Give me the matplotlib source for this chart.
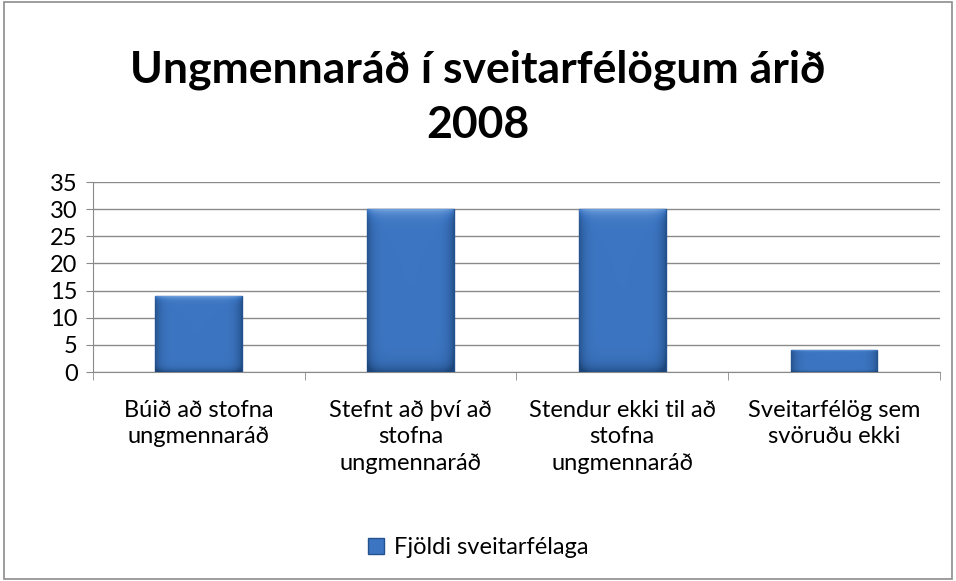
import numpy as np
import matplotlib.pyplot as plt
from matplotlib.patches import Rectangle
from matplotlib.colors import LinearSegmentedColormap

categories = ["Búið að stofna\nungmennaráð",
              "Stefnt að því að\nstofna\nungmennaráð",
              "Stendur ekki til að\nstofna\nungmennaráð",
              "Sveitarfélög sem\nsvöruðu ekki"]
values = [14, 30, 30, 4]
series_name = "Fjöldi sveitarfélaga"
title = "Ungmennaráð í sveitarfélögum árið\n2008"

plt.rcParams['font.family'] = ['Lato', 'DejaVu Sans']

fig = plt.figure(figsize=(9.56, 5.81), dpi=100)
fig.patches.append(Rectangle((0.004, 0.004), 0.992, 0.992, transform=fig.transFigure,
                             fill=False, edgecolor="#8c8c8c", linewidth=1.2))

ax = fig.add_axes([0.0973, 0.3597, 0.8857, 0.327])
x = np.arange(len(values))
bars = ax.bar(x, values, width=0.41, color="#3c75c1", edgecolor="#24528f", linewidth=1.0,
              label=series_name, zorder=3)

# bevel-like shading on each bar
bev = LinearSegmentedColormap.from_list("bev", ["#1c4579", "#3c75c1", "#7aa9e2"])
gx = np.linspace(-1, 1, 80)
gy = np.linspace(0, 1, 80)
GX, GY = np.meshgrid(gx, gy)
shade = 0.5 - 0.35 * np.abs(GX) ** 8 + 0.4 * GY ** 30 - 0.35 * (1 - GY) ** 25
for b in bars:
    x0, y0 = b.get_x(), b.get_y()
    im = ax.imshow(shade, extent=(x0, x0 + b.get_width(), y0, y0 + b.get_height()),
                   origin="lower", cmap=bev, vmin=0, vmax=1, aspect="auto", zorder=3.5)
    im.set_clip_path(b)

ax.set_xlim(-0.5, len(values) - 0.5)
ax.set_ylim(0, 35)
ax.set_yticks(np.arange(0, 36, 5))
ax.yaxis.grid(True, color="#8a8a8a", linewidth=1)
ax.set_axisbelow(True)
for s in ["top", "right"]:
    ax.spines[s].set_visible(False)
for s in ["left", "bottom"]:
    ax.spines[s].set_color("#8a8a8a")
ax.tick_params(axis="y", length=5, color="#8a8a8a", labelsize=17, pad=6)
ax.set_xticks(x)
ax.set_xticklabels(categories, fontsize=17, linespacing=1.32)
ax.tick_params(axis="x", length=0, pad=20)
ax.set_xticks(np.arange(-0.5, len(values), 1), minor=True)
ax.tick_params(axis="x", which="minor", length=6, color="#8a8a8a")

fig.text(0.5, 0.833, title, ha="center", va="center", fontsize=32, fontweight="bold",
         linespacing=1.45)
fig.legend(loc="center", bbox_to_anchor=(0.5, 0.057), frameon=False, fontsize=17,
           handlelength=0.7, handleheight=0.7, handletextpad=0.4)

fig.savefig("out.png", dpi=100)
